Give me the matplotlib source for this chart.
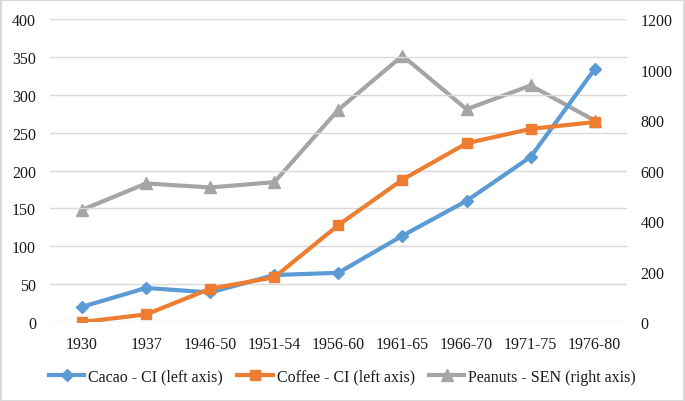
import matplotlib
matplotlib.use("Agg")
import matplotlib.pyplot as plt
from matplotlib.patches import Rectangle

categories = ["1930", "1937", "1946-50", "1951-54", "1956-60", "1961-65", "1966-70", "1971-75", "1976-80"]
cacao = [20, 45, 39, 62, 65, 114, 160, 218, 334]
coffee = [0, 10, 44, 59, 128, 188, 236, 255, 264]
peanuts = [444, 549, 533, 554, 841, 1055, 843, 937, 798]

plt.rcParams['font.family'] = ['Liberation Serif', 'DejaVu Serif']

fig = plt.figure(figsize=(6.85, 4.02), dpi=100)
ax = fig.add_axes([0.073, 0.1965, 0.842, 0.7535])
ax2 = ax.twinx()

x = list(range(len(categories)))
l1, = ax.plot(x, cacao, color="#5B9BD5", lw=3, marker="D", ms=6, label="Cacao - CI (left axis)", zorder=3)
l2, = ax.plot(x, coffee, color="#ED7D31", lw=3, marker="s", ms=7.5, label="Coffee - CI (left axis)", zorder=3)
l3, = ax2.plot(x, peanuts, color="#A5A5A5", lw=3, marker="^", ms=8, label="Peanuts - SEN (right axis)", zorder=2)

ax.set_zorder(ax2.get_zorder() + 1)
ax.patch.set_visible(False)

ax.set_xlim(-0.5, len(categories) - 0.5)
ax.set_ylim(0, 400)
ax2.set_ylim(0, 1200)
ax.set_yticks(range(0, 401, 50))
ax2.set_yticks(range(0, 1201, 200))
ax.set_xticks(x)
ax.set_xticklabels(categories)

ax.grid(axis="y", color="#D9D9D9", lw=1)
ax.set_axisbelow(True)
for a in (ax, ax2):
    for s in a.spines.values():
        s.set_visible(False)
    a.tick_params(length=0, labelsize=11.5, colors="#1a1a1a")
ax.tick_params(axis="x", pad=10)
ax.tick_params(axis="y", pad=10)
ax2.tick_params(axis="y", pad=10)

fig.legend(handles=[l1, l2, l3], loc="center", bbox_to_anchor=(0.5, 0.06), ncol=3,
           frameon=False, fontsize=11.5, handlelength=2.2, handletextpad=0.25,
           columnspacing=0.9, labelcolor="#1a1a1a")

fig.patches.append(Rectangle((0.001, 0.001), 0.998, 0.997, transform=fig.transFigure,
                             fill=False, edgecolor="#D9D9D9", lw=1.5))

fig.savefig("out.png", dpi=100)
